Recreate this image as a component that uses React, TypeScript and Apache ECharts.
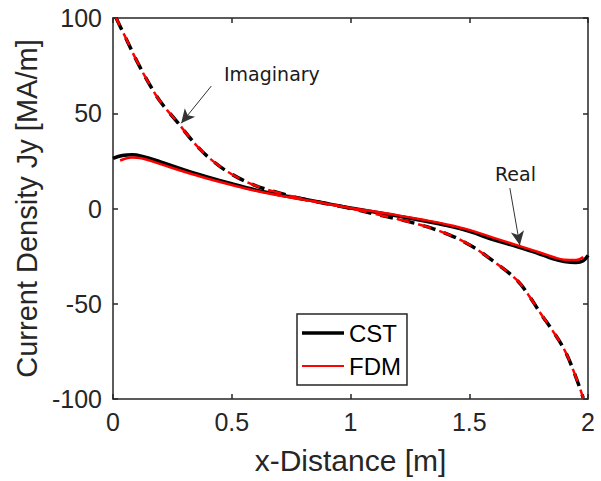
import React, { useEffect, useRef } from "react";
import * as echarts from "echarts";

// ---- data ----
const cstRealX = [0, 0.04, 0.08, 0.12, 0.2, 0.3, 0.4, 0.5, 0.6, 0.7, 0.8, 0.9, 1.0, 1.1, 1.2, 1.3, 1.4, 1.5, 1.6, 1.7, 1.8, 1.85, 1.9, 1.95, 1.98, 2.0];
const cstReal = [26.3, 27.8, 28.2, 27.5, 24.5, 20.3, 16.5, 13, 9.8, 7.2, 5.0, 2.7, 0.3, -1.8, -4.0, -6.3, -8.8, -12.0, -16.3, -20.0, -24.0, -26.3, -27.8, -28.3, -27.4, -24.6];

const fdmRealX = [0.03, 0.08, 0.12, 0.2, 0.3, 0.4, 0.5, 0.6, 0.7, 0.8, 0.9, 1.0, 1.1, 1.2, 1.3, 1.4, 1.5, 1.6, 1.7, 1.8, 1.85, 1.9, 1.95, 1.98];
const fdmReal = [25.2, 26.8, 26.4, 23.3, 19.3, 15.6, 12.3, 9.3, 6.8, 4.7, 2.5, 0.3, -1.6, -3.6, -5.8, -8.2, -11.2, -15.3, -19.2, -23.2, -25.3, -26.9, -27.0, -25.4];

const imagX = [0.013, 0.05, 0.1, 0.15, 0.2, 0.27, 0.35, 0.42, 0.5, 0.6, 0.7, 0.8, 0.9, 1.0, 1.1, 1.2, 1.3, 1.4, 1.5, 1.6, 1.7, 1.75, 1.8, 1.85, 1.9, 1.94, 1.98];
const cstImag = [100, 90.5, 77.5, 66, 56, 45.5, 33.3, 25, 18, 12, 8.2, 5, 2.5, 0, -2.8, -5.6, -8.8, -13, -19, -27.5, -37.5, -45.5, -55, -64, -74, -85.5, -99.5];
const fdmImag = [100, 90.5, 77.5, 66, 56, 45.5, 33.3, 25, 18, 12, 8.2, 5, 2.5, 0, -2.8, -5.6, -8.8, -13, -19, -27.5, -37.5, -45.5, -55, -64, -74, -85.5, -99.5];

const xTicks = [0, 0.5, 1, 1.5, 2];
const yTicks = [-100, -50, 0, 50, 100];

const imagArrow = [[0.414, 64.3], [0.287, 44.7]];
const realArrow = [[1.671, 10.7], [1.713, -19.3]];

const zip = (xs: number[], ys: number[]) => xs.map((x, i) => [x, ys[i]]);

const AX = "#262626";
const FONT = "Liberation Sans, Arial, sans-serif";

export default function App() {
  const ref = useRef<HTMLDivElement>(null);
  useEffect(() => {
    if (!ref.current) return;
    const chart = echarts.init(ref.current, undefined, { renderer: "svg" });
    const tickCommon = {
      axisLine: { show: true, onZero: false, lineStyle: { color: AX, width: 1.5 } },
      axisTick: { show: true, inside: true, length: 5, lineStyle: { color: AX, width: 1.5 } },
      splitLine: { show: false },
    };
    chart.setOption({
      animation: false,
      backgroundColor: "#ffffff",
      textStyle: { fontFamily: FONT },
      grid: { left: 113, right: 13, top: 18, bottom: 82 },
      legend: {
        orient: "vertical",
        left: 297,
        top: 314,
        data: [
          { name: "CST", icon: "path://M0,0 L42,0 L42,3.5 L0,3.5 Z" },
          { name: "FDM", icon: "path://M0,0 L42,0 L42,2.2 L0,2.2 Z" },
        ],
        backgroundColor: "#ffffff",
        borderColor: AX,
        borderWidth: 1.5,
        borderRadius: 0,
        padding: [6, 6, 6, 5],
        itemGap: 7,
        itemWidth: 42,
        itemHeight: 14,
        textStyle: { fontSize: 24, lineHeight: 26, color: "#000", fontFamily: FONT },
      },
      xAxis: [
        {
          type: "value",
          min: 0,
          max: 2,
          interval: 0.5,
          name: "x-Distance [m]",
          nameLocation: "middle",
          nameGap: 46,
          nameTextStyle: { fontSize: 30, color: AX, fontFamily: FONT },
          axisLabel: {
            fontSize: 25,
            color: AX,
            margin: 10,
            fontFamily: FONT,
            formatter: (v: number) => (xTicks.includes(v) ? String(v) : ""),
          },
          ...tickCommon,
        },
        {
          type: "value",
          position: "top",
          min: 0,
          max: 2,
          interval: 0.5,
          axisLabel: { show: false },
          ...tickCommon,
        },
      ],
      yAxis: [
        {
          type: "value",
          min: -100,
          max: 100,
          interval: 50,
          name: "Current Density Jy [MA/m]",
          nameLocation: "middle",
          nameGap: 72,
          nameTextStyle: { fontSize: 29, color: AX, fontFamily: FONT },
          axisLabel: {
            fontSize: 25,
            color: AX,
            margin: 11,
            fontFamily: FONT,
            formatter: (v: number) => (yTicks.includes(v) ? String(v) : ""),
          },
          ...tickCommon,
        },
        {
          type: "value",
          position: "right",
          min: -100,
          max: 100,
          interval: 50,
          axisLabel: { show: false },
          ...tickCommon,
        },
      ],
      series: [
        {
          name: "CST",
          type: "line",
          data: zip(cstRealX, cstReal),
          smooth: 0.4,
          showSymbol: false,
          symbol: "none",
          lineStyle: { color: "#000000", width: 3.5 },
          itemStyle: { color: "#000000" },
          z: 2,
          markLine: {
            silent: true,
            symbol: ["none", "arrow"],
            symbolSize: [10, 14],
            lineStyle: { color: "#333333", width: 1, type: "solid" },
            label: { show: false },
            data: [
              [{ coord: imagArrow[0] }, { coord: imagArrow[1] }],
              [{ coord: realArrow[0] }, { coord: realArrow[1] }],
            ],
          },
        },
        {
          name: "FDM",
          type: "line",
          data: zip(fdmRealX, fdmReal),
          smooth: 0.4,
          showSymbol: false,
          symbol: "none",
          lineStyle: { color: "#ff0000", width: 2.5 },
          itemStyle: { color: "#ff0000" },
          z: 3,
        },
        {
          name: "CST",
          type: "line",
          data: zip(imagX, cstImag),
          smooth: 0.4,
          showSymbol: false,
          symbol: "none",
          lineStyle: { color: "#000000", width: 3.5, type: [13, 9] },
          itemStyle: { color: "#000000" },
          z: 2,
        },
        {
          name: "FDM",
          type: "line",
          data: zip(imagX, fdmImag),
          smooth: 0.4,
          showSymbol: false,
          symbol: "none",
          lineStyle: { color: "#ff0000", width: 2.5, type: [13, 9], dashOffset: 5 },
          itemStyle: { color: "#ff0000" },
          z: 3,
        },
      ],
      graphic: [
        {
          type: "text",
          left: 224,
          top: 64,
          style: { text: "Imaginary", fontSize: 19, fontFamily: "DejaVu Sans, Verdana, sans-serif", fill: "#1a1a1a" },
        },
        {
          type: "text",
          left: 495,
          top: 164,
          style: { text: "Real", fontSize: 19, fontFamily: "DejaVu Sans, Verdana, sans-serif", fill: "#1a1a1a" },
        },
      ],
    });
    return () => chart.dispose();
  }, []);
  return <div ref={ref} style={{ width: 601, height: 481, position: "absolute", left: 0, top: 0 }} />;
}
